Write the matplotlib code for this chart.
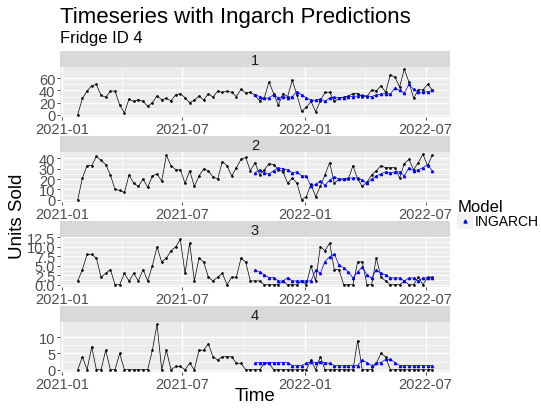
import numpy as np
import pandas as pd
import matplotlib
matplotlib.use('Agg')
import matplotlib.pyplot as plt
import matplotlib.dates as mdates

plt.rcParams['font.family'] = ['Liberation Sans', 'DejaVu Sans']

# weekly sales per fridge (Fridge ID 4), and INGARCH predictions for the last 39 weeks
dates = pd.date_range('2021-01-25', periods=77, freq='7D')
pred_start = 38

sold_1 = [0, 27, 39, 48, 50, 32, 29, 39, 39, 16, 3, 26, 22, 25, 22, 14, 20, 31, 25, 27,
          23, 33, 35, 28, 20, 24, 31, 24, 35, 29, 39, 37, 39, 37, 30, 42, 36, 37, 32, 23,
          28, 54, 35, 16, 35, 30, 57, 32, 6, 12, 22, 5, 23, 37, 37, 22, 27, 29, 31, 35,
          35, 30, 30, 41, 39, 48, 37, 66, 62, 46, 75, 54, 27, 41, 41, 50, 41]
sold_2 = [0, 21, 33, 33, 42, 38, 34, 24, 10, 9, 7, 24, 16, 13, 20, 12, 23, 25, 18, 43,
          33, 29, 29, 16, 28, 13, 23, 30, 28, 22, 20, 37, 33, 23, 31, 39, 41, 28, 36, 24,
          29, 35, 34, 29, 27, 16, 21, 16, 0, 3, 15, 3, 13, 24, 36, 16, 20, 20, 20, 33,
          20, 13, 17, 24, 28, 33, 31, 31, 31, 21, 35, 39, 29, 36, 44, 33, 43]
sold_3 = [1, 4, 8, 8, 7, 2, 3, 4, 0, 0, 3, 1, 3, 1, 4, 1, 5, 10, 6, 7,
          9, 10, 12, 3, 11, 1, 7, 6, 2, 1, 2, 3, 0, 2, 2, 7, 6, 1, 1, 1,
          0, 0, 0, 0, 1, 0, 0, 0, 1, 0, 5, 1, 10, 9, 11, 4, 4, 0, 0, 0,
          6, 6, 0, 0, 7, 2, 1, 0, 0, 0, 1, 0, 0, 2, 0, 2, 2]
sold_4 = [0, 4, 0, 7, 0, 0, 6, 0, 0, 5, 0, 0, 0, 0, 0, 0, 6, 14, 0, 6,
          0, 1, 1, 0, 2, 0, 6, 6, 8, 4, 3, 4, 4, 4, 2, 2, 0, 0, 0, 0,
          2, 2, 0, 0, 0, 0, 0, 0, 0, 0, 3, 0, 4, 0, 0, 0, 0, 0, 0, 0,
          9, 0, 0, 0, 2, 5, 4, 0, 0, 0, 0, 0, 0, 0, 0, 0, 0]

pred_1 = [33, 30, 27, 28, 33, 28, 30, 28, 30, 38, 33, 28, 24, 24, 26, 22, 28, 29, 28, 28,
          30, 30, 31, 32, 31, 30, 33, 34, 35, 34, 44, 40, 36, 50, 42, 37, 37, 38, 40]
pred_2 = [26, 29, 26, 25, 28, 31, 30, 29, 26, 27, 23, 23, 13, 15, 18, 14, 19, 22, 20, 20,
          21, 21, 21, 19, 16, 20, 23, 25, 27, 26, 27, 27, 23, 31, 28, 29, 31, 34, 28]
pred_3 = [4.0, 3.3, 2.6, 1.9, 1.9, 1.0, 1.0, 1.9, 1.0, 1.0, 1.0, 1.0, 1.0, 3.9, 3.0, 6.1,
          7.4, 8.1, 5.2, 4.5, 3.4, 1.8, 3.4, 4.7, 2.6, 1.7, 3.9, 3.0, 2.6, 1.8, 1.8, 1.8,
          1.0, 1.8, 1.8, 1.0, 1.8, 1.8, 1.8]
pred_4 = [2.2, 2.2, 2.2, 2.2, 2.2, 2.2, 2.2, 2.2, 1.3, 1.3, 1.3, 2.0, 2.5, 2.2, 2.5, 2.2,
          2.0, 1.3, 1.3, 1.3, 1.3, 1.3, 1.3, 3.0, 2.2, 1.3, 2.0, 2.2, 3.2, 3.2, 2.2, 1.3,
          1.3, 1.3, 1.3, 1.3, 1.3, 1.3, 1.3]

fridges = ['1', '2', '3', '4']
sold = [sold_1, sold_2, sold_3, sold_4]
preds = [pred_1, pred_2, pred_3, pred_4]
yticks = [[0, 20, 40, 60], [0, 10, 20, 30, 40],
          [0, 2.5, 5, 7.5, 10, 12.5], [0, 5, 10]]
ytick_labels = [['0', '20', '40', '60'], ['0', '10', '20', '30', '40'],
                ['0.0', '2.5', '5.0', '7.5', '10.0', '12.5'], ['0', '5', '10']]
xticks = pd.to_datetime(['2021-01-01', '2021-07-01', '2022-01-01', '2022-07-01'])

W, H = 541, 410
fig = plt.figure(figsize=(W / 100, H / 100), dpi=100)

def px_box(x0, y0, x1, y1):
    # pixel box (top-left origin) -> figure fraction rect
    return [x0 / W, 1 - y1 / H, (x1 - x0) / W, (y1 - y0) / H]

left, right = 60, 450
for k in range(4):
    top = 52 + 85 * k
    # strip
    sax = fig.add_axes(px_box(left, top, right, top + 16))
    sax.set_facecolor('#D9D9D9')
    sax.set_xticks([])
    sax.set_yticks([])
    for s in sax.spines.values():
        s.set_visible(False)
    sax.text(0.5, 0.45, fridges[k], ha='center', va='center', fontsize=10.5,
             color='#1A1A1A', transform=sax.transAxes)

    # panel
    ax = fig.add_axes(px_box(left, top + 16, right, top + 66))
    ax.set_facecolor('#EBEBEB')
    for s in ax.spines.values():
        s.set_visible(False)

    y = np.array(sold[k], dtype=float)
    p = np.array(preds[k], dtype=float)
    ax.plot(dates, y, color='black', lw=0.5, zorder=3)
    ax.plot(dates, y, 'o', color='black', ms=0.9, zorder=3)
    ax.plot(dates[pred_start:], p, color='#0000FF', lw=0.5, zorder=4)
    ax.plot(dates[pred_start:], p, '^', color='#0000FF', ms=1.6, zorder=4)

    ymax = max(y.max(), p.max())
    pad = ymax * 0.05
    ax.set_ylim(-pad, ymax + pad)
    span = dates[-1] - dates[0]
    ax.set_xlim(dates[0] - span * 0.05, dates[-1] + span * 0.05)

    ax.set_yticks(yticks[k])
    ax.set_yticklabels(ytick_labels[k])
    minor = np.array(yticks[k][:-1]) + np.diff(yticks[k]) / 2
    ax.set_yticks(minor, minor=True)
    ax.set_xticks(xticks)
    ax.xaxis.set_major_formatter(mdates.DateFormatter('%Y-%m'))
    xminor = xticks[:-1] + (xticks[1:] - xticks[:-1]) / 2
    ax.set_xticks(xminor, minor=True)

    ax.grid(which='major', color='white', lw=0.9, zorder=0)
    ax.grid(which='minor', color='white', lw=0.45, zorder=0)
    ax.set_axisbelow(True)
    ax.tick_params(axis='both', which='major', length=2.5, width=0.6, color='#333333',
                   labelsize=10.5, labelcolor='#4D4D4D', pad=1)
    ax.tick_params(axis='both', which='minor', length=0)

fig.text(left / W, 1 - 18 / H, 'Timeseries with Ingarch Predictions', fontsize=16,
         va='center', ha='left', color='black')
fig.text(left / W, 1 - 38 / H, 'Fridge ID 4', fontsize=12, va='center', ha='left',
         color='black')
fig.text(17 / W, 1 - 216 / H, 'Units Sold', fontsize=13.5, rotation=90,
         va='center', ha='center', color='black')
fig.text(255 / W, 1 - 397 / H, 'Time', fontsize=13.5, va='center', ha='center',
         color='black')

# legend
fig.text(458 / W, 1 - 208 / H, 'Model', fontsize=12, va='center', ha='left',
         color='black')
lax = fig.add_axes(px_box(457, 214, 473, 230))
lax.set_facecolor('#F2F2F2')
lax.set_xlim(0, 1)
lax.set_ylim(0, 1)
lax.set_xticks([])
lax.set_yticks([])
for s in lax.spines.values():
    s.set_visible(False)
lax.plot([0.5], [0.5], '^', color='#0000FF', ms=2.2)
fig.text(475 / W, 1 - 222 / H, 'INGARCH', fontsize=10, va='center', ha='left',
         color='black')

fig.savefig('out.png', dpi=100)
